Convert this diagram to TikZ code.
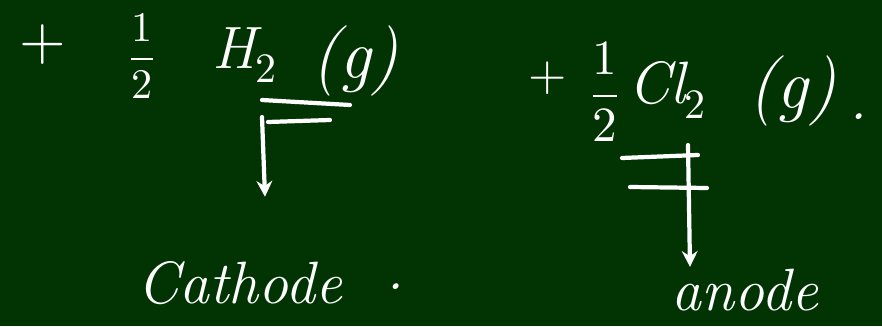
\documentclass[tikz,border=0pt]{standalone}
\definecolor{board}{RGB}{2, 52, 3}
\definecolor{chalk}{RGB}{255, 255, 255}
\usepackage{amsmath}
\usepackage{fontspec}
\usepackage{unicode-math}
\usepackage{tikz}
\usetikzlibrary{arrows.meta, positioning, calc}
\tikzset{
    chalktext/.style={
        text=chalk, inner sep=1pt,
        font=\fontsize{34}{38}\selectfont\itshape
    },
    halftext/.style={
        text=chalk, inner sep=1pt,
        font=\fontsize{#1}{#1}\selectfont
    },
    stroke/.style={draw=chalk, line width=2.4pt, line cap=round},
    arrow/.style={-{Stealth[length=9pt, width=9pt]}, line width=2.4pt, color=chalk, line cap=round}
}
\begin{document}
\begin{tikzpicture}
    \fill[board] (0,0) rectangle (17.64,6.52);
    \useasboundingbox (0,0) rectangle (17.64,6.52);

    % hydrogen side
    \node[halftext=34] (plusH) at (0.85,5.62) {$+$};
    \node[halftext=24] (halfH) at (2.84,5.4) {$\dfrac{1}{2}$};
    \node[chalktext] (hyd) at (4.9,5.42) {H$_2$};
    \node[chalktext, font=\fontsize{40}{44}\selectfont\itshape] (gasH) at (7.1,5.3) {(g)};
    \coordinate (ulHa) at (5.24,4.52);
    \coordinate (ulHb) at (7.0,4.42);
    \coordinate (ulHc) at (5.36,4.08);
    \coordinate (ulHd) at (6.6,4.12);
    \draw[stroke] (ulHa) -- (ulHb);
    \draw[stroke] (ulHc) -- (ulHd);
    \node[chalktext] (cathode) at (4.8,0.86) {Cathode};
    \node[chalktext] (dotH) at (7.9,0.78) {.};
    \draw[arrow] ($(ulHc)+(-0.12,0.1)$) -- ($(cathode.north)+(0.5,1.25)$);

    % chlorine side
    \node[halftext=28] (plusCl) at (10.96,4.96) {$+$};
    \node[halftext=28] (halfCl) at (12.1,4.68) {$\dfrac{1}{2}$};
    \node[chalktext] (chl) at (13.35,4.72) {Cl$_2$};
    \node[chalktext, font=\fontsize{40}{44}\selectfont\itshape] (gasCl) at (15.85,4.7) {(g)};
    \node[chalktext] (dotCl) at (17.16,4.18) {.};
    \coordinate (ulCa) at (12.44,3.36);
    \coordinate (ulCb) at (13.96,3.42);
    \coordinate (ulCc) at (12.6,2.78);
    \coordinate (ulCd) at (14.14,2.76);
    \draw[stroke] (ulCa) -- (ulCb);
    \draw[stroke] (ulCc) -- (ulCd);
    \node[chalktext] (anode) at (14.9,0.72) {anode};
    \draw[arrow] (13.76,3.62) -- ($(anode.north)+(-1.1,0.0)$);
\end{tikzpicture}
\end{document}
